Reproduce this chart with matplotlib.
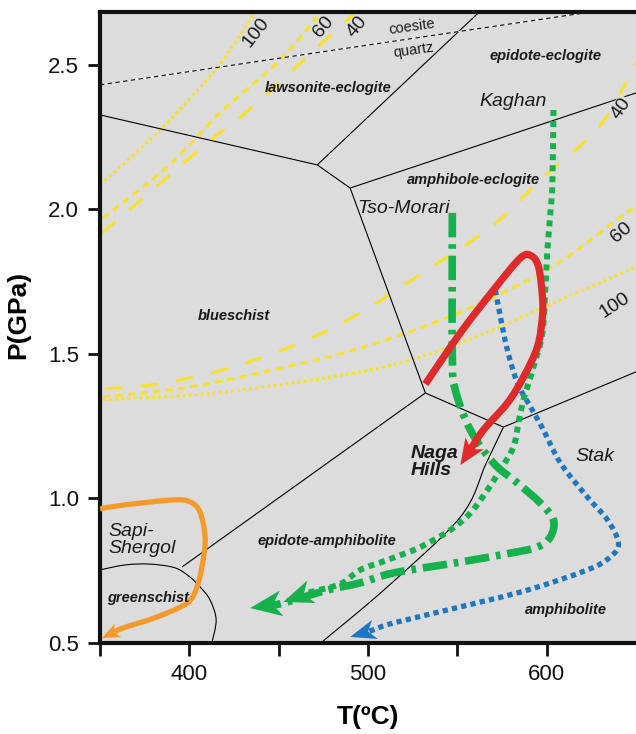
import numpy as np
import matplotlib
matplotlib.use("Agg")
import matplotlib.pyplot as plt
from matplotlib.patches import Polygon, PathPatch
from matplotlib.path import Path
from matplotlib.transforms import IdentityTransform

plt.rcParams['font.family'] = ['Liberation Sans', 'DejaVu Sans']

# --- facies boundaries (T in degC, P in GPa) ---
bnd_law_blue_T = [350, 471.6]
bnd_law_blue_P = [2.327, 2.154]
bnd_law_epi_T = [471.6, 562.3]
bnd_law_epi_P = [2.154, 2.683]
bnd_short_T = [471.6, 490]
bnd_short_P = [2.154, 2.074]
bnd_amph_ecl_T = [490, 650]
bnd_amph_ecl_P = [2.074, 2.403]
bnd_blue_amph_T = [490, 532.1]
bnd_blue_amph_P = [2.074, 1.365]
bnd_blue_epa_T = [532.1, 395.9]
bnd_blue_epa_P = [1.365, 0.763]
bnd_mid_T = [532.1, 575.8]
bnd_mid_P = [1.365, 1.247]
bnd_amph_top_T = [575.8, 650]
bnd_amph_top_P = [1.247, 1.438]
bnd_amph_T = [575.8, 566, 551.7, 510.8, 474.9]
bnd_amph_P = [1.247, 1.120, 0.936, 0.694, 0.507]
greenschist_T = [350, 364, 378, 392, 400.4, 406, 411.6, 415, 412.7]
greenschist_P = [0.753, 0.770, 0.773, 0.760, 0.728, 0.694, 0.649, 0.580, 0.503]
coesite_T = [350, 624.5]
coesite_P = [2.431, 2.683]

# --- geotherms (yellow) ---
g100a_T = [350, 383.6, 415.5, 435.7]
g100a_P = [2.085, 2.275, 2.490, 2.673]
g60a_T = [351.7, 387.5, 418.9, 449.2, 471.6]
g60a_P = [1.971, 2.147, 2.344, 2.507, 2.666]
g40a_T = [351.1, 369.6, 409.9, 430.1, 458.1, 477.2, 491.7]
g40a_P = [1.919, 2.015, 2.230, 2.327, 2.483, 2.593, 2.673]
g40b_T = [352.8, 381.9, 418.9, 456.4, 491.7, 533.2, 570.2, 596.5, 630.1, 650.3]
g40b_P = [1.379, 1.396, 1.445, 1.524, 1.628, 1.791, 1.946, 2.102, 2.292, 2.510]
g60b_T = [351.7, 400.4, 456.4, 501.3, 551.7, 602.1, 641.3, 650.3]
g60b_P = [1.351, 1.386, 1.458, 1.531, 1.645, 1.798, 1.974, 2.009]
g100b_T = [351.7, 418.9, 501.3, 551.7, 607.7, 650.3]
g100b_P = [1.341, 1.368, 1.445, 1.538, 1.687, 1.801]

# --- P-T paths ---
naga_T = [532.1, 551.7, 570.2, 585.3, 591.5, 595.5, 597.6, 597.6, 594.8, 587, 578, 564.6, 551.7]
naga_P = [1.396, 1.573, 1.721, 1.832, 1.839, 1.800, 1.700, 1.628, 1.524, 1.420, 1.330, 1.237, 1.116]
tso_T = [547.2, 547.2, 548.9, 557.3, 570.2, 583.6, 596.5, 603.8, 602.1, 594.8, 579.7, 551.7, 514.1, 495.7, 477.2, 452.6, 434]
tso_P = [1.988, 1.490, 1.375, 1.237, 1.123, 1.054, 0.984, 0.926, 0.867, 0.832, 0.811, 0.780, 0.742, 0.708, 0.683, 0.638, 0.621]
kaghan_T = [603.8, 603.2, 602.1, 600.4, 599.3, 597.6, 592.6, 587, 584.2, 581.4, 574.1, 566.8, 557.3, 546.1, 529.3, 510.8, 495.7, 484.5, 467.7, 452.6]
kaghan_P = [2.344, 2.092, 1.988, 1.860, 1.732, 1.573, 1.455, 1.341, 1.261, 1.178, 1.099, 1.029, 0.950, 0.891, 0.832, 0.787, 0.753, 0.704, 0.676, 0.642]
stak_T = [571.3, 574.1, 578, 583.6, 590.9, 597.6, 607.7, 622.8, 634, 640.2, 635.7, 622.8, 589.2, 551.7, 514.1, 502.9, 490]
stak_P = [1.721, 1.628, 1.514, 1.400, 1.317, 1.244, 1.123, 1.005, 0.926, 0.846, 0.798, 0.753, 0.683, 0.625, 0.569, 0.545, 0.521]
sapi_T = [350, 362.9, 390.9, 400.4, 406, 408.8, 407.7, 404.3, 398.7, 381.9, 362.9, 351.1]
sapi_P = [0.964, 0.977, 0.995, 0.988, 0.953, 0.867, 0.787, 0.694, 0.638, 0.590, 0.552, 0.517]

GREY = '#dcdcdc'
YEL = '#f7e22a'
RED = '#e0292b'
GREEN = '#16b04c'
BLUE = '#1f77c0'
ORANGE = '#f49a2c'

fig = plt.figure(figsize=(6.36, 7.34), dpi=100)
ax = fig.add_axes([100 / 636, 91 / 734, 536 / 636, 631 / 734])
ax.set_facecolor(GREY)
ax.set_xlim(350, 650)
ax.set_ylim(0.5, 2.683)


def curve(T, P, color, lw, dashes=None, z=2):
    # smooth curve through the read points (Catmull-Rom as cubic Bezier)
    pts = np.column_stack([T, P]).astype(float)
    n = len(pts)
    verts, codes = [pts[0]], [Path.MOVETO]
    for i in range(n - 1):
        p0 = pts[i - 1] if i > 0 else pts[i]
        p1, p2 = pts[i], pts[i + 1]
        p3 = pts[i + 2] if i + 2 < n else pts[i + 1]
        verts += [p1 + (p2 - p0) / 6, p2 - (p3 - p1) / 6, p2]
        codes += [Path.CURVE4] * 3
    ls = '-' if dashes is None else (0, dashes)
    patch = PathPatch(Path(verts, codes), fill=False, ec=color, lw=lw, ls=ls,
                      capstyle='butt', joinstyle='round', zorder=z)
    ax.add_patch(patch)


# geotherms
for T, P, d in [(g100a_T, g100a_P, (1, 1)), (g60a_T, g60a_P, (2.4, 1.7)), (g40a_T, g40a_P, (5.7, 6)),
                (g100b_T, g100b_P, (1, 1)), (g60b_T, g60b_P, (2.4, 1.7)), (g40b_T, g40b_P, (5.7, 6))]:
    curve(T, P, YEL, 2.2, d, z=1)

# facies boundaries
for T, P in [(bnd_law_blue_T, bnd_law_blue_P), (bnd_law_epi_T, bnd_law_epi_P), (bnd_short_T, bnd_short_P),
             (bnd_amph_ecl_T, bnd_amph_ecl_P), (bnd_blue_amph_T, bnd_blue_amph_P), (bnd_blue_epa_T, bnd_blue_epa_P),
             (bnd_mid_T, bnd_mid_P), (bnd_amph_top_T, bnd_amph_top_P), (bnd_amph_T, bnd_amph_P),
             (greenschist_T, greenschist_P)]:
    curve(T, P, 'black', 0.8)
ax.plot(coesite_T, coesite_P, color='white', lw=0.8, zorder=2)
ax.plot(coesite_T, coesite_P, color='black', lw=0.8, dashes=(4, 3), zorder=2)


def arrow_head(T, P, color, length, width):
    tr = ax.transData
    tip = tr.transform((T[-1], P[-1]))
    back = tr.transform((T[-2], P[-2]))
    u = (tip - back) / np.hypot(*(tip - back))
    n = np.array([-u[1], u[0]])
    base = tip - length * u
    verts = [tip, base + n * width / 2, tip - 0.72 * length * u, base - n * width / 2]
    ax.add_patch(Polygon(verts, closed=True, transform=IdentityTransform(),
                         fc=color, ec='none', clip_on=False, zorder=6))
    return tr.inverted().transform(tip - 0.6 * length * u)


def pt_path(T, P, color, lw, dashes, length, width):
    stop = arrow_head(T, P, color, length, width)
    xs = list(T[:-1]) + [stop[0]]
    ys = list(P[:-1]) + [stop[1]]
    curve(xs, ys, color, lw, dashes, z=5)


pt_path(sapi_T, sapi_P, ORANGE, 3.8, None, 18, 15)
pt_path(stak_T, stak_P, BLUE, 3.8, (1, 0.8), 26, 20)
pt_path(kaghan_T, kaghan_P, GREEN, 4.3, (1, 0.85), 30, 24)
pt_path(tso_T, tso_P, GREEN, 5.5, (3.2, 0.9, 0.6, 0.9), 32, 26)
pt_path(naga_T, naga_P, RED, 5.2, None, 26, 22)

# facies labels
fac = dict(fontsize=10.5, fontweight='bold', style='italic', color='#1a1a1a', ha='center', va='center', zorder=7)
ax.text(477.7, 2.420, 'lawsonite-eclogite', **fac)
ax.text(599.3, 2.531, 'epidote-eclogite', **fac)
ax.text(559, 2.102, 'amphibole-eclogite', **fac)
ax.text(425, 1.631, 'blueschist', **fac)
ax.text(477.2, 0.853, 'epidote-amphibolite', **fac)
ax.text(376.9, 0.656, 'greenschist', **fac)
ax.text(611, 0.614, 'amphibolite', **fac)

# locality labels
loc = dict(fontsize=14, style='italic', color='#1a1a1a', va='center', zorder=7)
ax.text(581.4, 2.375, 'Kaghan', ha='center', **loc)
ax.text(519.7, 2.002, 'Tso-Morari', ha='center', **loc)
ax.text(627.3, 1.144, 'Stak', ha='center', **loc)
ax.text(354.5, 0.856, 'Sapi-\nShergol', ha='left', linespacing=1.0, **loc)
ax.text(523.7, 1.126, 'Naga\nHills', ha='left', fontweight='bold', linespacing=1.0, **loc)

ax.text(524.8, 2.631, 'coesite', fontsize=10.5, rotation=8, color='#1a1a1a', ha='center', va='center', zorder=7)
ax.text(525.3, 2.552, 'quartz', fontsize=10.5, rotation=8, color='#1a1a1a', ha='center', va='center', zorder=7)

# geotherm labels
glab = dict(fontsize=14, color='#1a1a1a', ha='center', va='center', rotation_mode='anchor', zorder=7)
ax.text(437.5, 2.614, '100', rotation=52, **glab)
ax.text(474.9, 2.631, '60', rotation=50, **glab)
ax.text(494, 2.631, '40', rotation=50, **glab)
box = dict(fc=GREY, ec='none', pad=0.3)
ax.text(641.5, 2.351, '40', rotation=55, bbox=box, **glab)
ax.text(642, 1.919, '60', rotation=40, bbox=box, **glab)
ax.text(638, 1.669, '100', rotation=33, bbox=box, **glab)

# axes styling
ax.set_xticks([350, 400, 450, 500, 550, 600])
ax.set_xticklabels(['', '400', '', '500', '', '600'])
ax.set_yticks([0.5, 1.0, 1.5, 2.0, 2.5])
ax.set_yticklabels(['0.5', '1.0', '1.5', '2.0', '2.5'])
ax.tick_params(direction='out', length=9, width=2, labelsize=16, pad=6, color='#111111', labelcolor='#111111')
for s in ['left', 'bottom', 'top']:
    ax.spines[s].set_linewidth(3)
    ax.spines[s].set_color('#111111')
ax.spines['right'].set_visible(False)

ax.set_xlabel('T(ºC)', fontsize=19, fontweight='bold')
ax.set_ylabel('P(GPa)', fontsize=19, fontweight='bold')
ax.xaxis.set_label_coords(0.5, -0.098)
ax.yaxis.set_label_coords(-0.13, 0.52)

fig.savefig('out.png', dpi=100)
